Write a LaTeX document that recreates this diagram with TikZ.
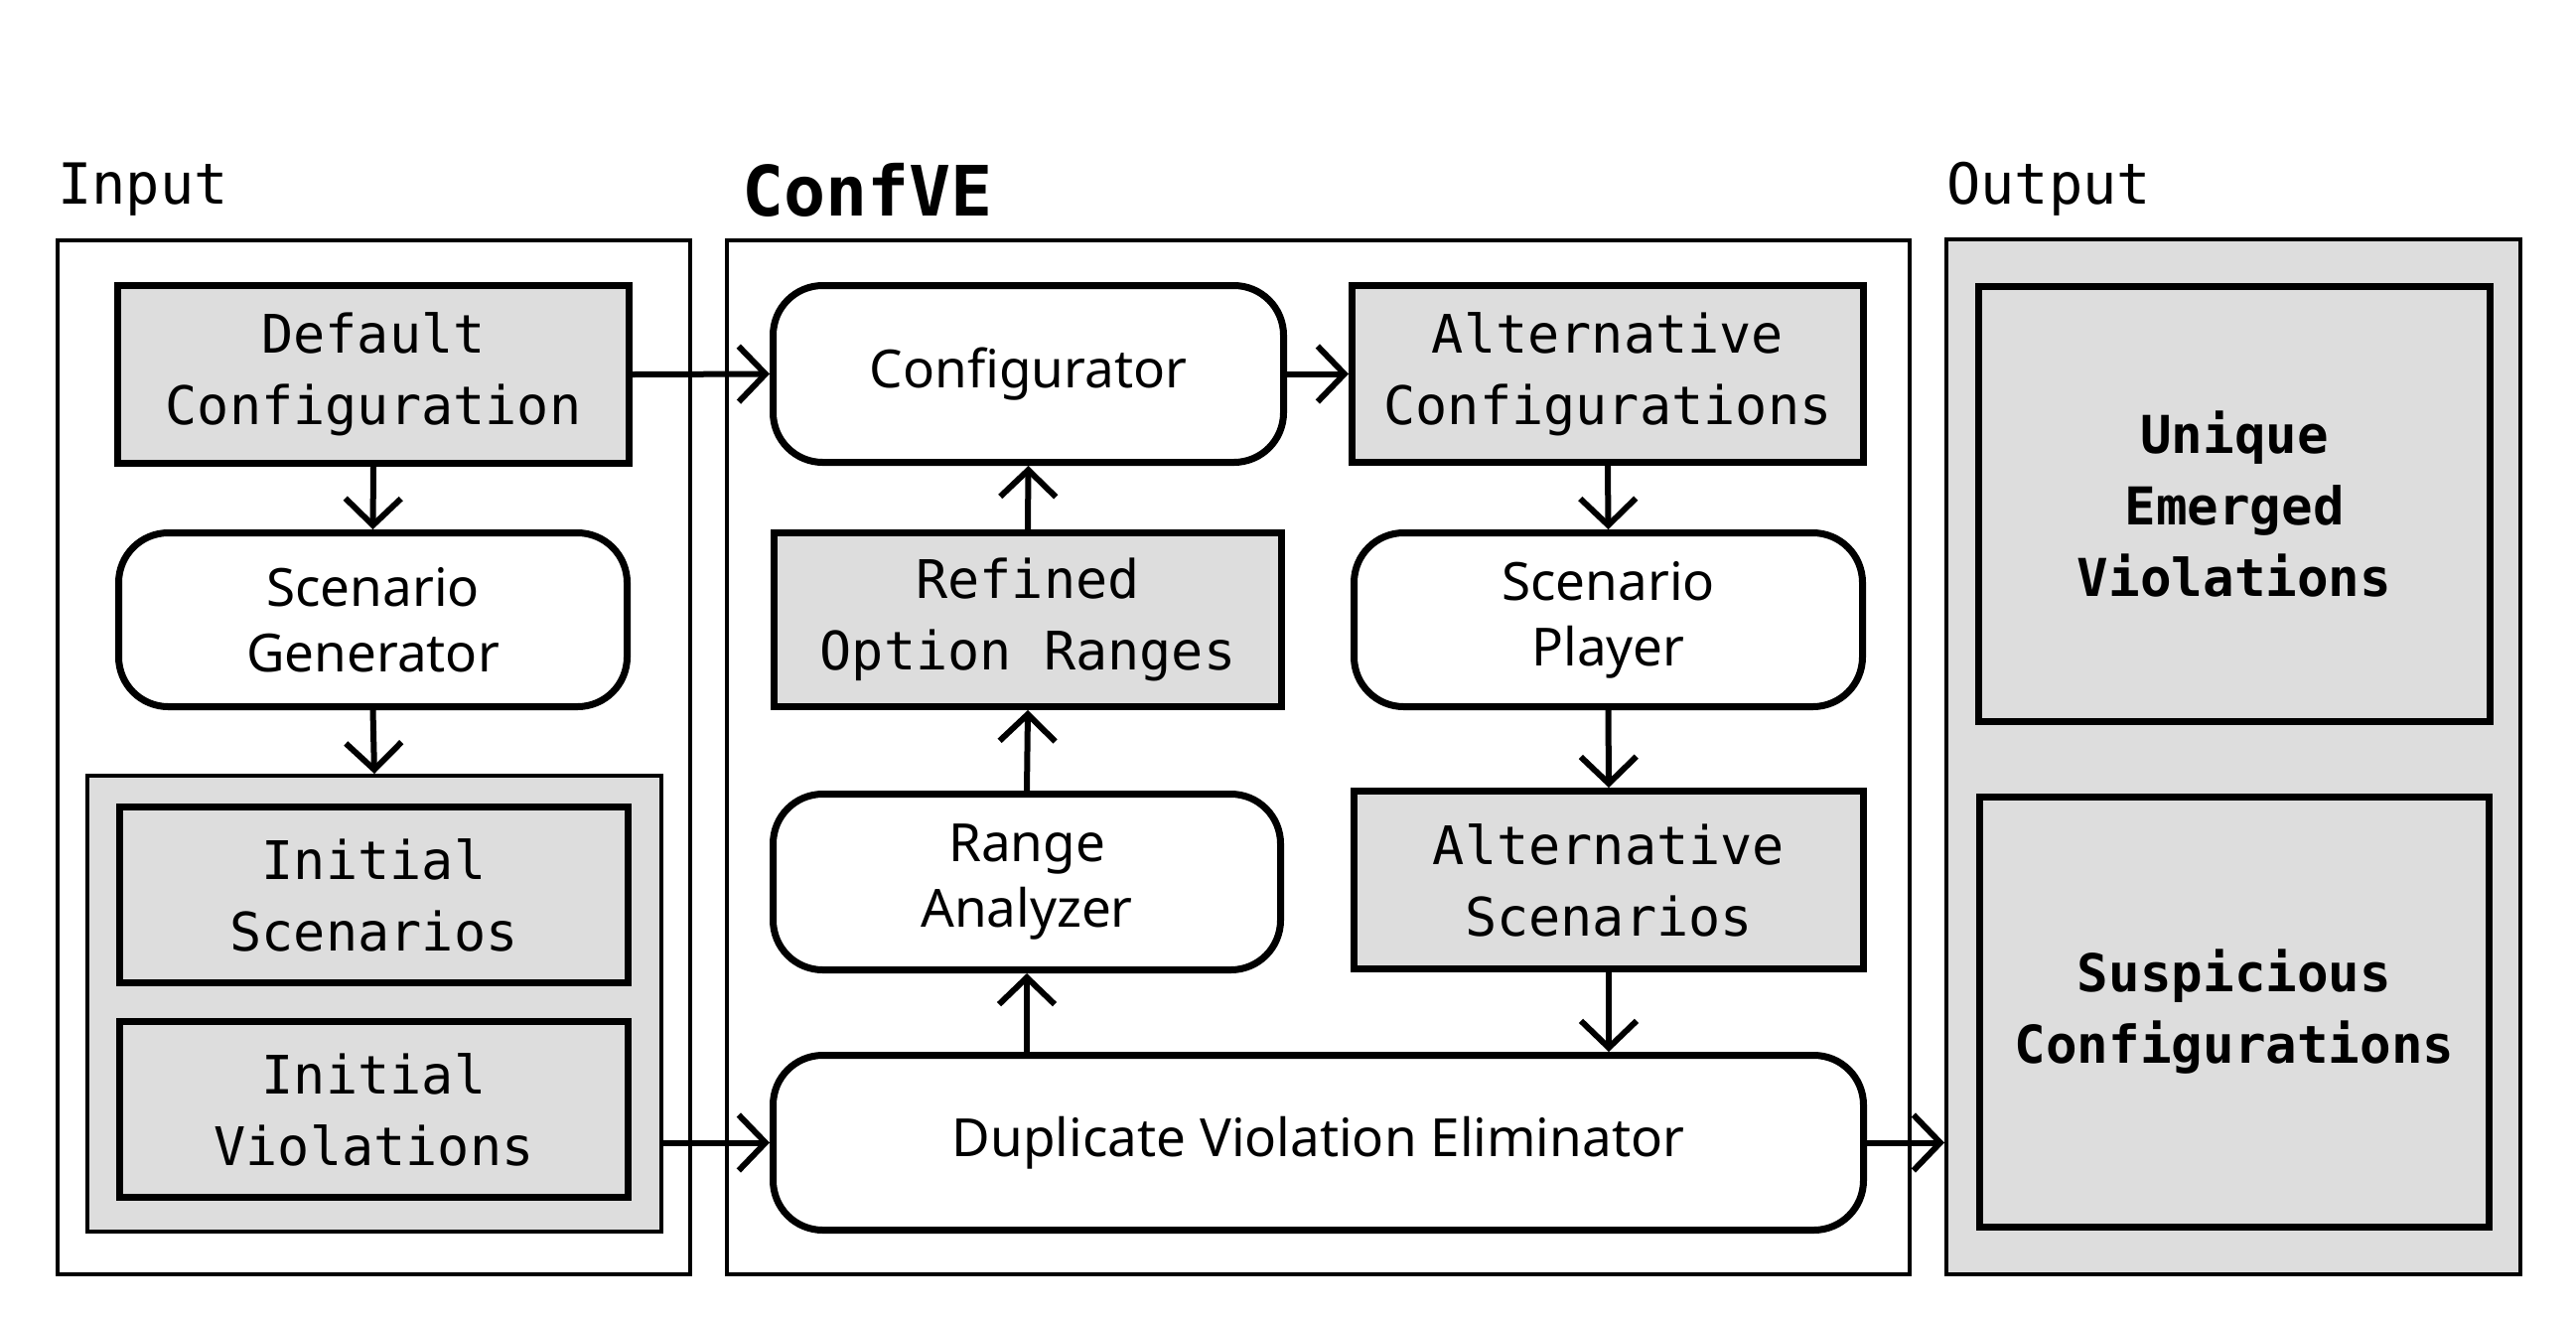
\documentclass[tikz,border=0pt]{standalone}
\usepackage{fontspec}
\setmainfont{Noto Sans}
\newfontfamily\monof{DejaVu Sans Mono}
\usetikzlibrary{arrows.meta}
\definecolor{boxgray}{HTML}{DDDDDD}
\begin{document}
\begin{tikzpicture}[x=1pt,y=-1pt,
  outer/.style={draw,line width=4pt,inner sep=0pt},
  databox/.style={draw,line width=7pt,fill=boxgray,inner sep=0pt,align=center,
    font=\monof\fontsize{53.5}{72}\selectfont},
  procbox/.style={draw,line width=7pt,fill=white,rounded corners=50pt,inner sep=0pt,align=center,
    font=\fontsize{53}{66}\selectfont},
  outbox/.style={draw,line width=7pt,fill=boxgray,inner sep=0pt,align=center,
    font=\monof\bfseries\fontsize{52.5}{72}\selectfont},
  flow/.style={line width=6pt,-{Straight Barb[length=27pt,width=56pt,line width=6pt]}},
  title/.style={anchor=base west,inner sep=0pt}
]
\useasboundingbox (0,0) rectangle (2594,1326);
\fill[white] (0,0) rectangle (2594,1326);

% outer frames
\node[outer,minimum width=637pt,minimum height=1041pt] (inputbox) at (376.5,762.5) {};
\node[outer,minimum width=1191pt,minimum height=1041pt] (confbox) at (1327.5,762.5) {};
\node[outer,fill=boxgray,minimum width=578pt,minimum height=1042pt] (outbox) at (2249,762) {};

% titles
\node[title,font=\monof\fontsize{57}{57}\selectfont] (tin) at (58,205) {Input};
\node[title,font=\monof\bfseries\fontsize{70}{70}\selectfont] (tconf) at (747,217) {ConfVE};
\node[title,font=\monof\fontsize{57}{57}\selectfont] (tout) at (1960,205) {Output};

% input column
\node[databox,minimum width=515pt,minimum height=179pt] (default) at (376,377) {Default\\Configuration};
\node[procbox,minimum width=512pt,minimum height=175pt] (scengen) at (375.5,624) {Scenario\\Generator};
\node[outer,fill=boxgray,minimum width=578pt,minimum height=459pt] (container) at (377,1010.5) {};
\node[databox,minimum width=512pt,minimum height=177pt] (initscen) at (376.5,901) {Initial\\Scenarios};
\node[databox,minimum width=512pt,minimum height=177pt] (initviol) at (376.5,1117) {Initial\\Violations};

% ConfVE
\node[procbox,minimum width=514pt,minimum height=178pt] (configurator) at (1035.5,376.5) {Configurator};
\node[databox,minimum width=511pt,minimum height=175pt] (refined) at (1035,624) {Refined\\Option Ranges};
\node[procbox,minimum width=511pt,minimum height=177pt] (range) at (1034,888) {Range\\Analyzer};
\node[databox,minimum width=515pt,minimum height=178pt] (altconf) at (1619,376.5) {Alternative\\Configurations};
\node[procbox,minimum width=512pt,minimum height=175pt] (scenplayer) at (1619.5,624) {Scenario\\Player};
\node[databox,minimum width=513pt,minimum height=179pt] (altscen) at (1620,886) {Alternative\\Scenarios};
\node[procbox,minimum width=1098pt,minimum height=176pt] (duplicate) at (1327.5,1150.5) {Duplicate Violation Eliminator};

% output
\node[outbox,minimum width=515pt,minimum height=438pt] (unique) at (2250,507.5) {Unique\\Emerged\\Violations};
\node[outbox,minimum width=513pt,minimum height=433pt] (suspicious) at (2250,1019) {Suspicious\\Configurations};

% connectors
\draw[flow] (default.east) -- (configurator.west);
\draw[flow] (default.south) -- (scengen.north);
\draw[flow] (scengen.south) -- (container.north);
\draw[flow] (container.east |- duplicate.west) -- (duplicate.west);
\draw[flow] (configurator.east) -- (altconf.west);
\draw[flow] (altconf.south) -- (scenplayer.north);
\draw[flow] (scenplayer.south) -- (altscen.north);
\draw[flow] (altscen.south) -- (altscen.south |- duplicate.north);
\draw[flow] (range.south |- duplicate.north) -- (range.south);
\draw[flow] (range.north) -- (refined.south);
\draw[flow] (refined.north) -- (configurator.south);
\draw[flow] (duplicate.east) -- (duplicate.east -| outbox.west);
\end{tikzpicture}
\end{document}
